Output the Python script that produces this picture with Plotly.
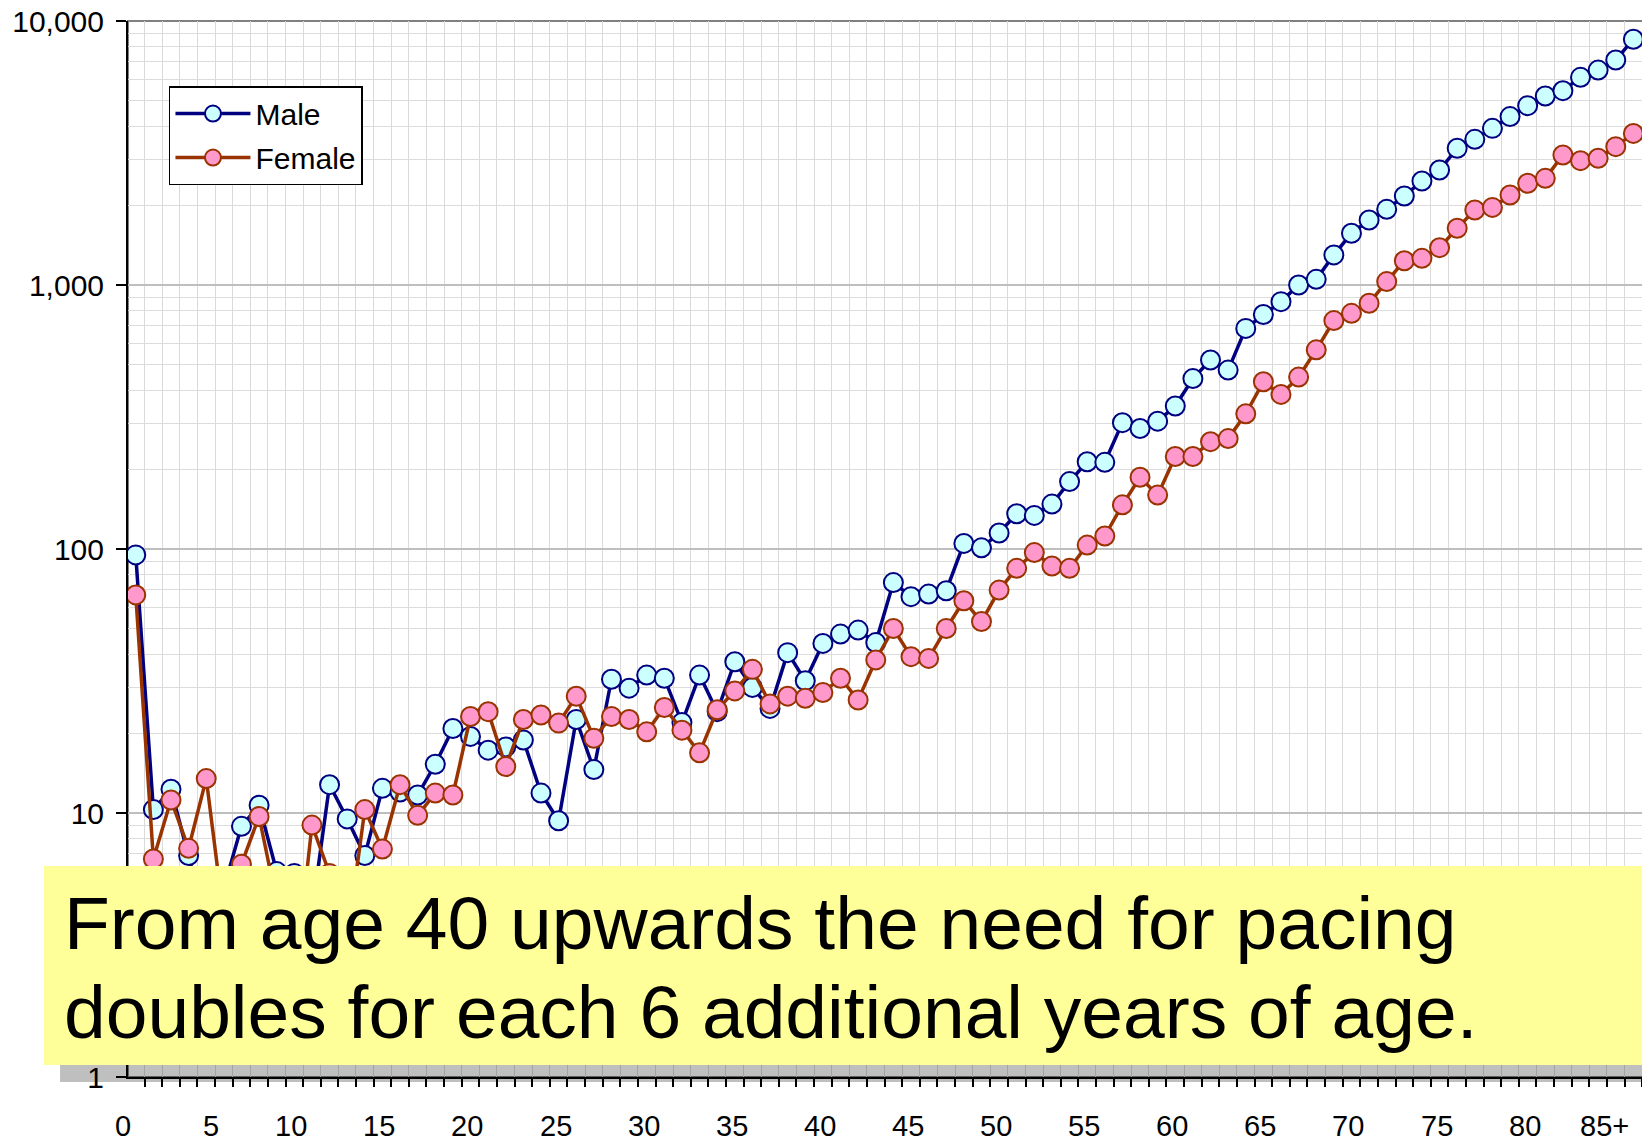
import plotly.graph_objects as go

ages = list(range(86))
age_labels = ["0", "5", "10", "15", "20", "25", "30", "35", "40",
              "45", "50", "55", "60", "65", "70", "75", "80", "85+"]
age_label_pos = [0, 5, 10, 15, 20, 25, 30, 35, 40, 45, 50, 55, 60, 65, 70, 75, 80, 85]

male = [95, 10.3, 12.3, 6.9, 3.8, 5.2, 8.9, 10.7, 6.0, 5.9,
        4.2, 12.8, 9.5, 6.9, 12.4, 12.0, 11.7, 15.3, 20.9, 19.5,
        17.3, 17.8, 18.9, 11.9, 9.35, 22.6, 14.6, 32.1, 29.7, 33.3,
        32.4, 22.0, 33.3, 24.2, 37.4, 29.9, 24.9, 40.5, 31.7, 43.9,
        47.6, 49.3, 44.2, 74.6, 66.0, 67.5, 69.5, 105, 101, 115,
        136, 134, 148, 180, 214, 213, 301, 286, 305, 348,
        442, 520, 476, 685, 773, 865, 1000, 1051, 1300, 1570,
        1763, 1935, 2173, 2477, 2727, 3295, 3563, 3920, 4344, 4780,
        5200, 5447, 6120, 6518, 7115, 8530]

female = [67, 6.7, 11.2, 7.35, 13.5, 4.0, 6.4, 9.7, 4.6, 2.2,
          9.0, 5.9, 3.3, 10.3, 7.3, 12.8, 9.8, 11.9, 11.7, 23.2,
          24.2, 15.0, 22.6, 23.5, 21.9, 27.7, 19.2, 23.2, 22.6, 20.3,
          25.1, 20.6, 16.9, 24.6, 29.0, 35.0, 25.9, 27.7, 27.2, 28.6,
          32.4, 26.8, 38.0, 50.0, 39.1, 38.5, 50.0, 63.7, 53.1, 69.9,
          84.5, 96.9, 86.2, 84.5, 103.5, 112, 147, 187, 160, 224,
          224, 255, 262, 325, 430, 385, 448, 568, 733, 781,
          853, 1030, 1236, 1262, 1385, 1640, 1923, 1968, 2193, 2428,
          2535, 3107, 2958, 3020, 3343, 3752]

note_lines = ["From age 40 upwards the need for pacing",
              "doubles for each 6 additional years of age."]

FONT = "Liberation Sans, Arial, sans-serif"

fig = go.Figure()
fig.add_trace(go.Scatter(
    x=ages, y=male, name="Male", mode="lines+markers", legendgroup="m",
    line=dict(color="#000080", width=3.5),
    marker=dict(size=19, color="#CCFFFF", line=dict(color="#000080", width=2)),
))
fig.add_trace(go.Scatter(
    x=ages, y=female, name="Female", mode="lines+markers", legendgroup="f",
    line=dict(color="#993300", width=3.5),
    marker=dict(size=19, color="#FF99CC", line=dict(color="#993300", width=2)),
))

# x tick labels (right-aligned just left of each category)
annotations = []
for pos, lab in zip(age_label_pos, age_labels):
    annotations.append(dict(
        x=pos - 0.15, xref="x", y=-0.0464, yref="paper",
        text=lab, showarrow=False, xanchor="right", yanchor="middle",
        font=dict(family=FONT, size=29, color="black"),
    ))

# note text
for yv, line in zip([0.1458, 0.0616], note_lines):
    annotations.append(dict(
        x=-0.0432, xref="paper", y=yv, yref="paper",
        text=line, showarrow=False, xanchor="left", yanchor="middle",
        font=dict(family=FONT, size=75, color="black"),
    ))

shapes = [
    # plot frame (top/right grey)
    dict(type="rect", xref="paper", yref="paper", x0=0, x1=1, y0=0, y1=1,
         line=dict(color="#808080", width=2), layer="between"),
    # shadow of note box
    dict(type="rect", xref="paper", yref="paper", x0=-0.0448, x1=1.003, y0=-0.0047, y1=0.1837,
         fillcolor="rgba(0,0,0,0.25)", line=dict(width=0), layer="above"),
    # yellow note box
    dict(type="rect", xref="paper", yref="paper", x0=-0.0554, x1=1.01, y0=0.0114, y1=0.1998,
         fillcolor="#FFFF99", line=dict(width=0), layer="above"),
]

fig.update_layout(
    width=1642, height=1133,
    margin=dict(l=120, r=5, t=13, b=64, autoexpand=False),
    paper_bgcolor="white", plot_bgcolor="white",
    font=dict(family=FONT, color="black"),
    showlegend=True,
    legend=dict(
        x=0.027, y=0.9384, xanchor="left", yanchor="top",
        bgcolor="white", bordercolor="black", borderwidth=1.5,
        font=dict(family=FONT, size=30, color="black"),
        itemwidth=75, tracegroupgap=2,
    ),
    annotations=annotations,
    shapes=shapes,
    xaxis=dict(
        range=[-0.44, 85.66], tickmode="linear", tick0=0.5, dtick=1,
        showticklabels=False, ticks="outside", ticklen=8, tickwidth=1.5, tickcolor="black",
        showgrid=True, gridcolor="#DADADA", gridwidth=1, automargin=False,
        showline=True, linecolor="black", linewidth=1.5, zeroline=False,
    ),
    yaxis=dict(
        type="log", range=[0, 4], tickmode="linear", tick0=0, dtick=1,
        tickformat=",", ticks="outside", ticklen=10, tickwidth=1.5, tickcolor="black",
        tickfont=dict(family=FONT, size=30, color="black"),
        ticklabelstandoff=6, ticklabeloverflow="allow", automargin=False,
        showgrid=True, gridcolor="#BEBEBE", gridwidth=1.5,
        showline=True, linecolor="black", linewidth=2, zeroline=False,
        minor=dict(dtick="D1", showgrid=True, gridcolor="#DCDCDC", gridwidth=1, ticks=""),
    ),
)

fig.write_html("out.html")
